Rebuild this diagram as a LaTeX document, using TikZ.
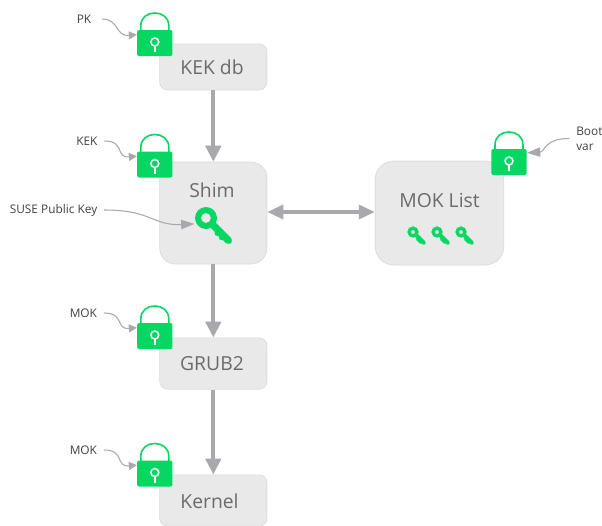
\documentclass[tikz,border=0pt]{standalone}
\usepackage{fontspec}
\setmainfont{Open Sans}
\usetikzlibrary{arrows.meta}

\definecolor{lockgreen}{HTML}{06D662}
\definecolor{boxgrey}{HTML}{E9E9E9}
\definecolor{boxedge}{HTML}{DADADA}
\definecolor{arrowgrey}{HTML}{A8A8AD}
\definecolor{textgrey}{HTML}{6B6B6B}

\tikzset{
  box/.style={draw=boxedge,fill=boxgrey,line width=0.5pt,minimum width=80.5pt,inner sep=0pt},
  boxtext/.style={text=textgrey,font=\fontsize{14.5pt}{17pt}\selectfont,inner sep=0pt},
  smalltext/.style={text=black!75,font=\fontsize{8.9pt}{11.2pt}\selectfont,inner sep=0pt,align=left},
  lockbody/.style={fill=lockgreen,rounded corners=1.5pt,minimum width=26.5pt,minimum height=19.5pt,inner sep=0pt},
  keyspot/.style={circle,minimum size=19pt,inner sep=0pt},
  bigarrow/.style={draw=arrowgrey,line width=3pt,-{Triangle[length=12pt,width=11.5pt]}},
  bothways/.style={draw=arrowgrey,line width=2.6pt,{Triangle[length=12pt,width=10.5pt]}-{Triangle[length=12pt,width=10.5pt]}},
  thinarrow/.style={draw=arrowgrey,line width=0.8pt,-{Triangle[length=6pt,width=6pt]}},
  longarrow/.style={draw=arrowgrey,line width=0.8pt,-{Triangle[length=10pt,width=7pt]}},
  flipped/.style={yscale=-1},
  smallkey/.style={flipped,scale=0.48,every path/.append style={draw=lockgreen,line width=0.5pt}},
  pics/lockdeco/.style={code={
    \draw[lockgreen,line width=1.2pt] (-14,-12) -- (-14,-17) .. controls (-14,-26) and (-7,-30) .. (0,-30) .. controls (7,-30) and (14,-26) .. (14,-17) -- (14,-12);
    \draw[white,line width=1.1pt] (0,-1) circle (4);
    \draw[white,line width=1.1pt] (0,3) -- (0,9);
  }},
  pics/keyicon/.style={code={
    \fill[lockgreen,even odd rule] (0,0) circle (11) (0,0) circle (5);
    \fill[lockgreen,rotate=45,rounded corners=0.8pt] (8,-3.6) -- (33,-3.6) -- (36,0) -- (33,3.6) -- (27,3.6) -- (26,5.6) -- (23.5,5.6) -- (22.5,3.6) -- (21,3.6) -- (20,5.6) -- (17.5,5.6) -- (16.5,3.6) -- (8,3.6) -- cycle;
  }}
}

\begin{document}
\begin{tikzpicture}[x=0.75pt,y=0.75pt,yscale=-1,xscale=1]
    \useasboundingbox (0,0) rectangle (602,525);

    %Rounded Rect
    \node (kekdb) [box,rounded corners=6pt,minimum height=34.5pt] at (213.3,67) {};
    %Rounded Rect
    \node (shim) [box,rounded corners=12pt,minimum height=76.5pt] at (213.3,213) {};
    %Rounded Rect
    \node (moklist) [box,rounded corners=14pt,minimum width=96.5pt,minimum height=78pt] at (439.5,213) {};
    %Rounded Rect
    \node (grub) [box,rounded corners=6pt,minimum height=38.5pt] at (213.3,363.5) {};
    %Rounded Rect
    \node (kernel) [box,rounded corners=6pt,minimum height=38.5pt] at (213.3,500.5) {};

    %Big Arrows
    \draw [bigarrow] (kekdb.south) -- (shim.north);
    \draw [bigarrow] (shim.south) -- (grub.north);
    \draw [bigarrow] (grub.south) -- (kernel.north);
    \draw [bothways] (shim.east |- 0,212) -- (moklist.west |- 0,212);

    %Locks
    \node (pklock) [lockbody] at (154.8,43) {};
    \pic [flipped] at (pklock) {lockdeco};
    \node (keklock) [lockbody] at (154.8,164.5) {};
    \pic [flipped] at (keklock) {lockdeco};
    \node (moklock) [lockbody] at (154.8,336) {};
    \pic [flipped] at (moklock) {lockdeco};
    \node (kernellock) [lockbody] at (154.8,473.5) {};
    \pic [flipped] at (kernellock) {lockdeco};
    \node (bootlock) [lockbody] at (509,162) {};
    \pic [flipped] at (bootlock) {lockdeco};

    %Keys
    \node (shimkey) [keyspot] at (206,218) {};
    \pic [flipped] at (shimkey) {keyicon};
    \pic [smallkey] at (413,232) {keyicon};
    \pic [smallkey] at (437,232) {keyicon};
    \pic [smallkey] at (461,232) {keyicon};

    % Text Node
    \node (kekdbtext) [boxtext] at (212,67) {KEK db};
    % Text Node
    \node (shimtext) [boxtext] at (212,190) {Shim};
    % Text Node
    \node (moktext) [boxtext] at (439.5,200) {MOK List};
    % Text Node
    \node (grubtext) [boxtext] at (212,364) {GRUB2};
    % Text Node
    \node (kerneltext) [boxtext] at (209.5,501) {Kernel};
    % Text Node
    \node (pklabel) [smalltext,anchor=west] at (76.5,19) {PK};
    % Text Node
    \node (keklabel) [smalltext,anchor=west] at (76,141) {KEK};
    % Text Node
    \node (suselabel) [smalltext,anchor=west] at (9.5,210) {SUSE Public Key};
    % Text Node
    \node (moklabel) [smalltext,anchor=west] at (69.5,313) {MOK};
    % Text Node
    \node (kernellabel) [smalltext,anchor=west] at (69.5,450) {MOK};
    % Text Node
    \node (bootlabel) [smalltext,anchor=west] at (576,138.5) {Boot\\var};

    %Thin Curves
    \draw [thinarrow,shorten <=8pt] (pklabel.east) .. controls +(28,0) and +(-22,2) .. (pklock.155);
    \draw [thinarrow,shorten <=5pt] (keklabel.east) .. controls +(28,0) and +(-22,2) .. (keklock.155);
    \draw [thinarrow,shorten <=5pt] (moklabel.east) .. controls +(28,0) and +(-22,2) .. (moklock.155);
    \draw [thinarrow,shorten <=5pt] (kernellabel.east) .. controls +(28,0) and +(-22,2) .. (kernellock.155);
    \draw [longarrow,shorten <=5pt] (suselabel.east) .. controls +(55,0) and +(-42,2) .. (shimkey.207);
    \draw [longarrow,shorten <=5pt] (bootlabel.west) .. controls +(-32,0) and +(18,-1) .. (bootlock.27);
\end{tikzpicture}
\end{document}
